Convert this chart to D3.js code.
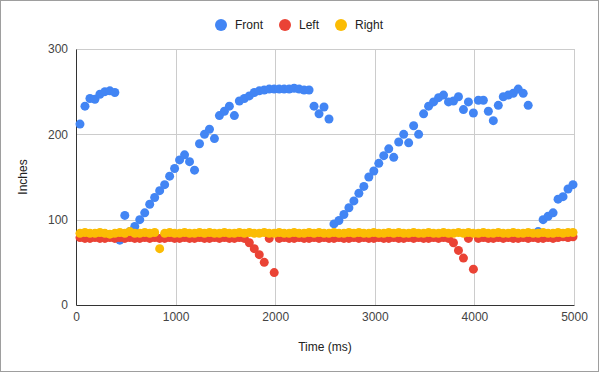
<!DOCTYPE html>
<html>
<head>
<meta charset="utf-8">
<script src="https://cdn.jsdelivr.net/npm/d3@7"></script>
<style>
  body { margin: 0; background: #fff; }
  svg { font-family: "Liberation Sans", Arial, sans-serif; }
</style>
</head>
<body>
<div id="chart"></div>
<script>

// sample times (ms)
var times = [40, 90, 140, 190, 240, 290, 340, 390, 440, 490,
	540, 590, 640, 690, 740, 790, 840, 890, 940, 990,
	1040, 1090, 1140, 1190, 1240, 1290, 1340, 1390, 1440, 1490,
	1540, 1590, 1640, 1690, 1740, 1790, 1840, 1890, 1940, 1990,
	2040, 2090, 2140, 2190, 2240, 2290, 2340, 2390, 2440, 2490,
	2540, 2590, 2640, 2690, 2740, 2790, 2840, 2890, 2940, 2990,
	3040, 3090, 3140, 3190, 3240, 3290, 3340, 3390, 3440, 3490,
	3540, 3590, 3640, 3690, 3740, 3790, 3840, 3890, 3940, 3990,
	4040, 4090, 4140, 4190, 4240, 4290, 4340, 4390, 4440, 4490,
	4540, 4590, 4640, 4690, 4740, 4790, 4840, 4890, 4940, 4990];

var front = [212, 233, 242, 241, 247, 250, 251, 249, 76, 105,
	86, 92, 100, 108, 118, 126, 134, 141, 151, 160,
	170, 176, 168, 158, 189, 200, 206, 195, 222, 227,
	233, 222, 239, 242, 245, 249, 251, 252, 253, 253,
	253, 253, 253, 254, 253, 252, 252, 233, 224, 232,
	218, 95, 99, 106, 114, 122, 131, 139, 150, 157,
	166, 175, 183, 173, 191, 200, 190, 210, 200, 224,
	233, 238, 243, 246, 238, 239, 244, 229, 238, 225,
	240, 240, 227, 216, 234, 244, 246, 248, 253, 248,
	234, 82, 86, 100, 104, 108, 124, 127, 136, 141];

var left = [79, 78, 78, 79, 78, 78, 79, 78, 79, 78,
	79, 78, 78, 79, 78, 79, 78, 78, 79, 78,
	78, 79, 78, 78, 79, 78, 78, 79, 78, 79,
	78, 78, 79, 78, 73, 66, 59, 50, 78, 38,
	78, 79, 78, 78, 79, 78, 78, 79, 78, 79,
	78, 78, 79, 78, 78, 79, 78, 79, 78, 78,
	79, 78, 78, 79, 78, 78, 79, 78, 79, 78,
	78, 79, 78, 79, 78, 73, 64, 55, 78, 42,
	78, 79, 78, 78, 79, 78, 79, 78, 78, 79,
	78, 79, 78, 78, 79, 78, 79, 80, 79, 80];

var right = [84, 85, 84, 84, 85, 84, 83, 84, 85, 84,
	86, 84, 84, 85, 84, 85, 66, 84, 85, 84,
	84, 85, 84, 84, 85, 84, 85, 84, 84, 85,
	84, 84, 85, 84, 85, 84, 84, 85, 84, 84,
	85, 84, 84, 85, 84, 84, 85, 84, 85, 84,
	84, 85, 84, 84, 85, 84, 85, 84, 84, 85,
	84, 84, 85, 84, 85, 84, 84, 85, 84, 84,
	85, 84, 84, 85, 84, 84, 85, 84, 85, 84,
	84, 85, 84, 84, 85, 84, 84, 85, 84, 84,
	85, 84, 84, 85, 84, 84, 85, 84, 85, 85];

var seriesNames = ["Front", "Left", "Right"];
var seriesColors = ["#4285f4", "#ea4335", "#fbbc04"];
var xTicks = [0, 1000, 2000, 3000, 4000, 5000];
var yTicks = [0, 100, 200, 300];

// figure sizes
var W = 600, H = 374;
var margin = { top: 49, right: 26, bottom: 69, left: 76 },
	width = W - margin.left - margin.right,
	height = H - margin.top - margin.bottom;

var svg = d3.select("#chart").append("svg")
	.attr("width", W)
	.attr("height", H);

// outer frame
svg.append("rect")
	.attr("x", 0.5).attr("y", 0.5)
	.attr("width", 598).attr("height", 371)
	.attr("fill", "#fff")
	.attr("stroke", "#9e9e9e");

var g = svg.append("g")
	.attr("transform", "translate(" + margin.left + "," + margin.top + ")");

// scales
var xScale = d3.scaleLinear().domain([0, 5000]).range([0, width]);
var yScale = d3.scaleLinear().domain([0, 300]).range([height, 0]);

// gridlines
g.append("g").selectAll("line")
	.data(yTicks.filter(function (d) { return d > 0; }))
	.enter().append("line")
	.attr("x1", 0).attr("x2", width)
	.attr("y1", function (d) { return Math.round(yScale(d)) + 0.5; })
	.attr("y2", function (d) { return Math.round(yScale(d)) + 0.5; })
	.attr("stroke", "#cccccc");

g.append("g").selectAll("line")
	.data(xTicks.filter(function (d) { return d > 0; }))
	.enter().append("line")
	.attr("x1", function (d) { return Math.round(xScale(d)) + 0.5; })
	.attr("x2", function (d) { return Math.round(xScale(d)) + 0.5; })
	.attr("y1", 0).attr("y2", height)
	.attr("stroke", "#cccccc");

// axes
var xAxis = g.append("g")
	.attr("transform", "translate(0," + height + ")")
	.call(d3.axisBottom(xScale).tickValues(xTicks).tickFormat(d3.format("d")).tickSize(0).tickPadding(7));
var yAxis = g.append("g")
	.call(d3.axisLeft(yScale).tickValues(yTicks).tickFormat(d3.format("d")).tickSize(0).tickPadding(8));

[xAxis, yAxis].forEach(function (a) {
	a.select(".domain").attr("stroke", "#333");
	a.selectAll("text")
		.attr("fill", "#444")
		.style("font-size", "12px")
		.style("font-family", "Liberation Sans, Arial, sans-serif");
});

// dots: Front below, Right on top
var allSeries = [front, left, right];
allSeries.forEach(function (vals, i) {
	g.append("g").selectAll("circle")
		.data(vals)
		.enter().append("circle")
		.attr("cx", function (d, j) { return xScale(times[j]); })
		.attr("cy", function (d) { return yScale(d); })
		.attr("r", 4.5)
		.attr("fill", seriesColors[i]);
});

// axis titles
svg.append("text")
	.attr("x", margin.left + width / 2)
	.attr("y", 351)
	.attr("text-anchor", "middle")
	.attr("fill", "#222")
	.style("font-size", "12px")
	.text("Time (ms)");

svg.append("text")
	.attr("transform", "translate(27," + (margin.top + height / 2) + ") rotate(-90)")
	.attr("text-anchor", "middle")
	.attr("fill", "#222")
	.style("font-size", "12px")
	.text("Inches");

// legend
var legendX = [221, 285, 341];
var legend = svg.append("g");
seriesNames.forEach(function (name, i) {
	legend.append("circle")
		.attr("cx", legendX[i]).attr("cy", 25)
		.attr("r", 6)
		.attr("fill", seriesColors[i]);
	legend.append("text")
		.attr("x", legendX[i] + 14).attr("y", 29)
		.attr("fill", "#222")
		.style("font-size", "12px")
		.text(name);
});

</script>
</body>
</html>
